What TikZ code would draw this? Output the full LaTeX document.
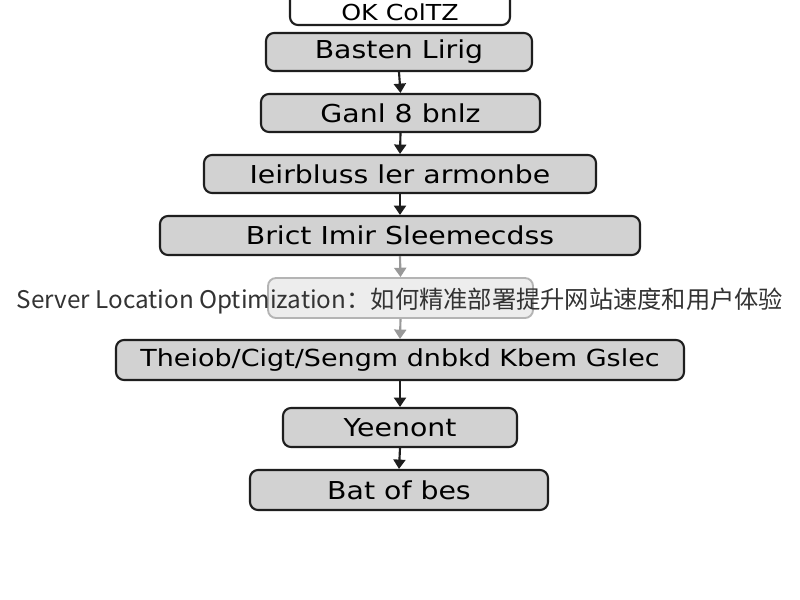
\documentclass[tikz,border=0pt]{standalone}
\usepackage{fontspec}
\usetikzlibrary{arrows.meta}
\newfontfamily\boxfont[FakeStretch=1.15]{DejaVu Sans}
\newfontfamily\titlefont{Noto Sans CJK SC}
\definecolor{boxfill}{HTML}{D2D2D2}
\definecolor{boxline}{HTML}{1E1E1E}
\definecolor{fadeline}{HTML}{B4B4B4}
\definecolor{fadefill}{HTML}{EDEDED}
\definecolor{titlecol}{HTML}{333333}
\tikzset{
  w/.style={minimum width=#1*0.75pt},
  h/.style={minimum height=#1*0.75pt},
  flowbox/.style={draw=boxline, fill=boxfill, line width=1.6pt, rounded corners=6pt,
    inner sep=0pt, font=\boxfont\fontsize{18.5}{20}\selectfont, text=black},
  topbox/.style={flowbox, fill=white},
  toptext/.style={inner sep=0pt, font=\boxfont\fontsize{16.5}{18}\selectfont, text=black},
  fadebox/.style={draw=fadeline, fill=fadefill, line width=1.4pt, rounded corners=6pt,
    inner sep=0pt},
  arr/.style={draw=boxline, line width=1.6pt, -{Triangle[width=9pt,length=7pt]}},
  fadearr/.style={draw=black!40, line width=1.6pt, -{Triangle[width=9pt,length=7pt]}},
  titlestyle/.style={font=\titlefont\fontsize{18.2}{20}\selectfont, text=titlecol, inner sep=0pt}
}
\begin{document}
\begin{tikzpicture}[x=0.75pt,y=-0.75pt]
\useasboundingbox (0,0) rectangle (800,600);
\clip (0,0) rectangle (800,600);
\fill[white] (0,0) rectangle (800,600);
\node[topbox, w=220, h=44] (b1) at (400,3) {};
\node[toptext] (b1t) at (400,12) {OK ColTZ};
\node[flowbox, w=266, h=38] (b2) at (399,52) {Basten Lirig};
\node[flowbox, w=279, h=38] (b3) at (400.5,113) {Ganl 8 bnlz};
\node[flowbox, w=392, h=38] (b4) at (400,174) {Ieirbluss ler armonbe};
\node[flowbox, w=480, h=39] (b5) at (400,235.5) {Brict Imir Sleemecdss};
\node[fadebox, w=265, h=40] (b6) at (400.5,298) {};
\node[flowbox, w=568, h=40, font=\boxfont\fontsize{17.6}{19}\selectfont] (b7) at (400,360) {Theiob/Cigt/Sengm dnbkd Kbem Gslec};
\node[flowbox, w=234, h=39] (b8) at (400,427.5) {Yeenont};
\node[flowbox, w=298, h=40] (b9) at (399,490) {Bat of bes};
\draw[arr] (b2.south) -- (b3.north);
\draw[arr] (b3.south) -- (b4.north);
\draw[arr] (b4.south) -- (b5.north);
\draw[fadearr] (b5.south) -- (b6.north);
\draw[fadearr] (b6.south) -- (b7.north);
\draw[arr] (b7.south) -- (b8.north);
\draw[arr] (b8.south) -- (b9.north);
\node[titlestyle] (title) at (400,301) {Server Location Optimization：如何精准部署提升网站速度和用户体验};
\end{tikzpicture}
\end{document}
